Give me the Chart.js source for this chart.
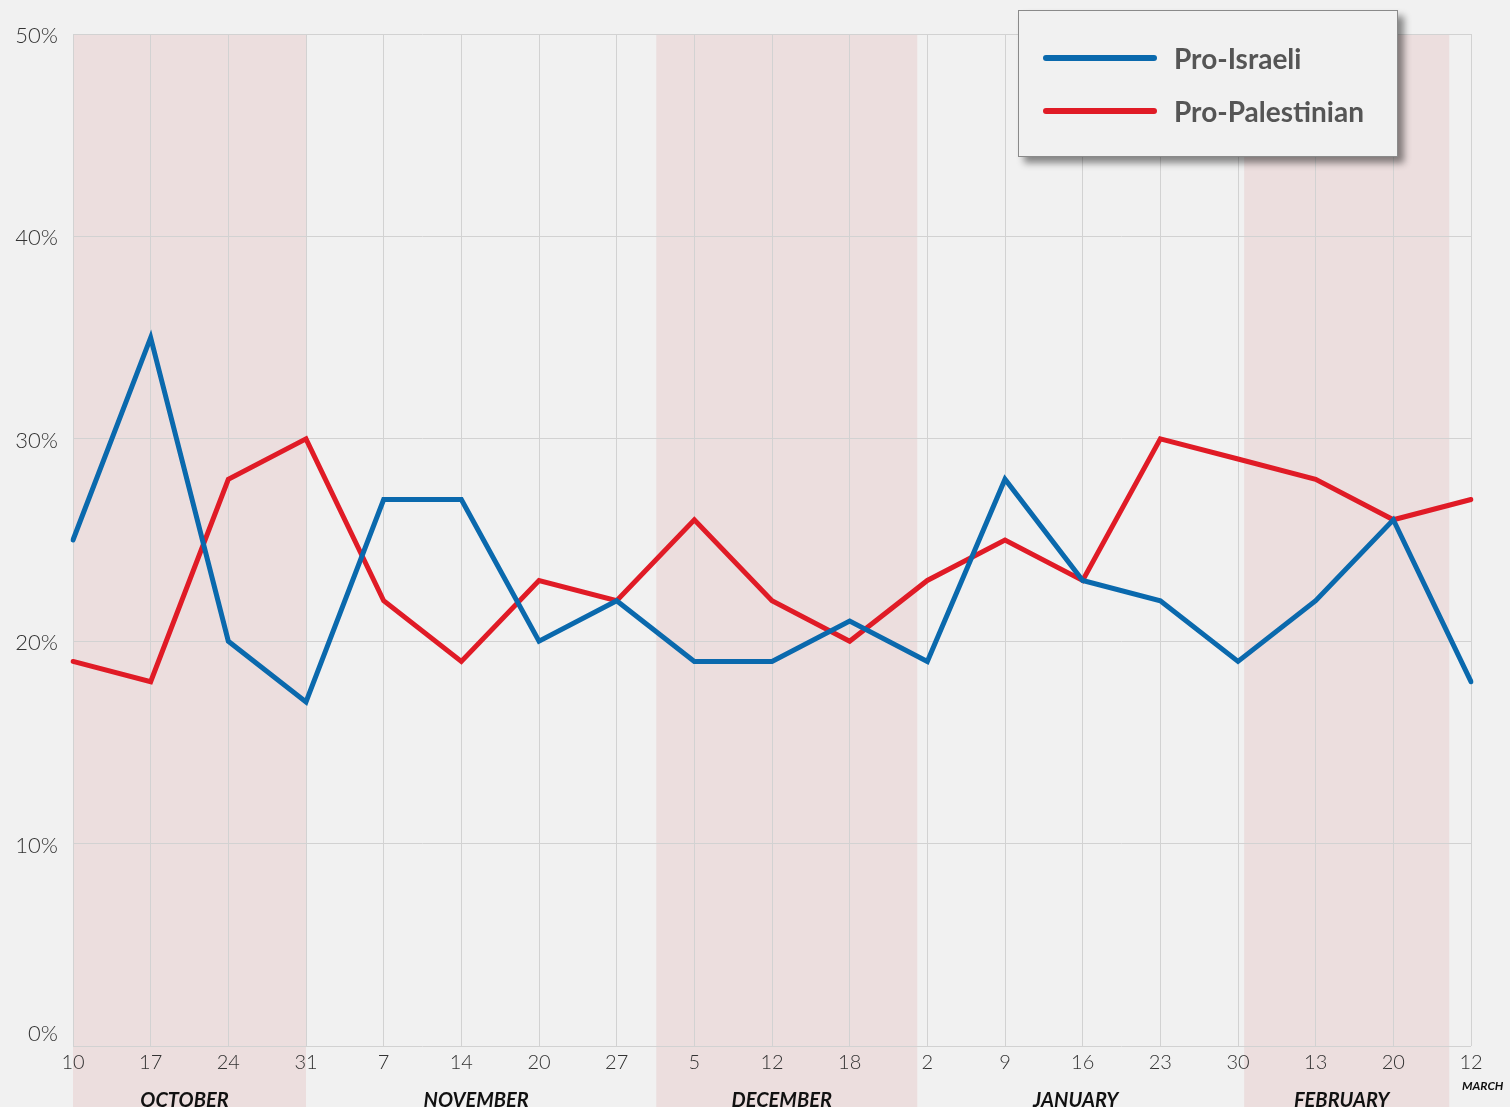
<!DOCTYPE html>
<html>
<head>
<meta charset="utf-8">
<script src="https://cdn.jsdelivr.net/npm/chart.js@4/dist/chart.umd.min.js"></script>
<style>
  html, body { margin: 0; padding: 0; background: #f0f0f0; }
  #wrap { position: relative; width: 1510px; height: 1107px; overflow: hidden; background: #f1f1f1; }
  canvas { position: absolute; left: 0; top: 0; }
  #legend {
    position: absolute; left: 1018px; top: 10px; width: 378px; height: 145px;
    background: #f1f1f1; border: 1px solid #8a8a8a;
    box-shadow: 6px 6px 7px rgba(0,0,0,0.45);
    font-family: Lato, "Open Sans", sans-serif; font-weight: 700; font-size: 28px; color: #555;
  }
  .lg { position: absolute; left: 24px; height: 40px; display: flex; align-items: center; }
  .lg .sw { width: 114px; height: 6px; border-radius: 3px; margin-right: 17px; }
</style>
</head>
<body>
<div id="wrap">
  <canvas id="c" width="1510" height="1107"></canvas>
  <div id="legend">
    <div class="lg" style="top:27px"><div class="sw" style="background:#0a69ad"></div><span>Pro-Israeli</span></div>
    <div class="lg" style="top:80px"><div class="sw" style="background:#e01b26"></div><span>Pro-Palestinian</span></div>
  </div>
</div>
<script>
// Week labels (day of month), Oct 2023 -> Mar 2024
const categories = ['10','17','24','31','7','14','20','27','5','12','18','2','9','16','23','30','13','20','12'];
const proIsraeli = [25, 35, 20, 17, 27, 27, 20, 22, 19, 19, 21, 19, 28, 23, 22, 19, 22, 26, 18];
const proPalestinian = [19, 18, 28, 30, 22, 19, 23, 22, 26, 22, 20, 23, 25, 23, 30, 29, 28, 26, 27];
const seriesNames = ['Pro-Israeli', 'Pro-Palestinian'];
const yTicks = [0, 10, 20, 30, 40, 50];
// Month names and their spans along the category axis (in category-index units)
const months = ['OCTOBER', 'NOVEMBER', 'DECEMBER', 'JANUARY', 'FEBRUARY'];
const monthSpans = [[0, 3], [3, 7.51], [7.51, 10.87], [10.87, 15.08], [15.08, 17.72]];
const shadedMonths = [true, false, true, false, true];
const lastMonth = 'MARCH';

const FONT = 'Lato, "Open Sans", sans-serif';

const bandPlugin = {
  id: 'bands',
  beforeDraw(chart) {
    const { ctx, chartArea, scales: { x } } = chart;
    ctx.save();
    monthSpans.forEach((s, i) => {
      if (!shadedMonths[i]) return;
      const x0 = x.getPixelForValue(s[0]);
      const x1 = x.getPixelForValue(s[1]);
      ctx.fillStyle = 'rgba(228,196,196,0.42)';
      ctx.fillRect(x0, chartArea.top, x1 - x0, chart.height - chartArea.top);
    });
    ctx.restore();
  },
  afterDraw(chart) {
    const { ctx, chartArea, scales: { x, y } } = chart;
    ctx.save();
    // y-axis labels
    ctx.fillStyle = '#333';
    ctx.textAlign = 'right';
    ctx.textBaseline = 'middle';
    ctx.font = '300 22px ' + FONT;
    yTicks.forEach(v => {
      const py = Math.min(y.getPixelForValue(v) + 2, chartArea.bottom - 12);
      ctx.fillText(v + '%', 58, py);
    });
    // month labels
    ctx.fillStyle = '#111';
    ctx.textAlign = 'center';
    ctx.textBaseline = 'alphabetic';
    ctx.font = 'italic 700 20px ' + FONT;
    monthSpans.forEach((s, i) => {
      const cx = (x.getPixelForValue(s[0]) + x.getPixelForValue(s[1])) / 2 - 5;
      ctx.fillText(months[i], cx, 1107);
    });
    ctx.font = 'italic 700 12px ' + FONT;
    ctx.textAlign = 'left';
    ctx.fillText(lastMonth, x.getPixelForValue(categories.length - 1) - 9, 1090);
    ctx.restore();
  }
};

new Chart(document.getElementById('c'), {
  type: 'line',
  data: {
    labels: categories,
    datasets: [
      { label: seriesNames[0], data: proIsraeli, borderColor: '#0a69ad', borderWidth: 5, pointRadius: 0, tension: 0, borderJoinStyle: 'miter', borderCapStyle: 'round' },
      { label: seriesNames[1], data: proPalestinian, borderColor: '#e01b26', borderWidth: 5, pointRadius: 0, tension: 0, borderJoinStyle: 'miter', borderCapStyle: 'round' }
    ]
  },
  options: {
    responsive: false,
    animation: false,
    layout: { padding: { top: 34, right: 39, left: 0, bottom: 0 } },
    plugins: { legend: { display: false }, tooltip: { enabled: false } },
    scales: {
      x: {
        type: 'category',
        offset: false,
        grid: { color: '#d2d2d2', lineWidth: 1, drawTicks: false },
        border: { display: false },
        ticks: { color: '#333', font: { family: FONT, size: 20, weight: '300' }, padding: 5, maxRotation: 0, autoSkip: false },
        afterFit(scale) { scale.height = 61; }
      },
      y: {
        min: 0, max: 50,
        afterBuildTicks(scale) { scale.ticks = yTicks.map(v => ({ value: v })); },
        grid: { color: '#d2d2d2', lineWidth: 1, drawTicks: false },
        border: { display: false },
        ticks: { display: false },
        afterFit(scale) { scale.width = 73; }
      }
    }
  },
  plugins: [bandPlugin]
});
</script>
</body>
</html>
